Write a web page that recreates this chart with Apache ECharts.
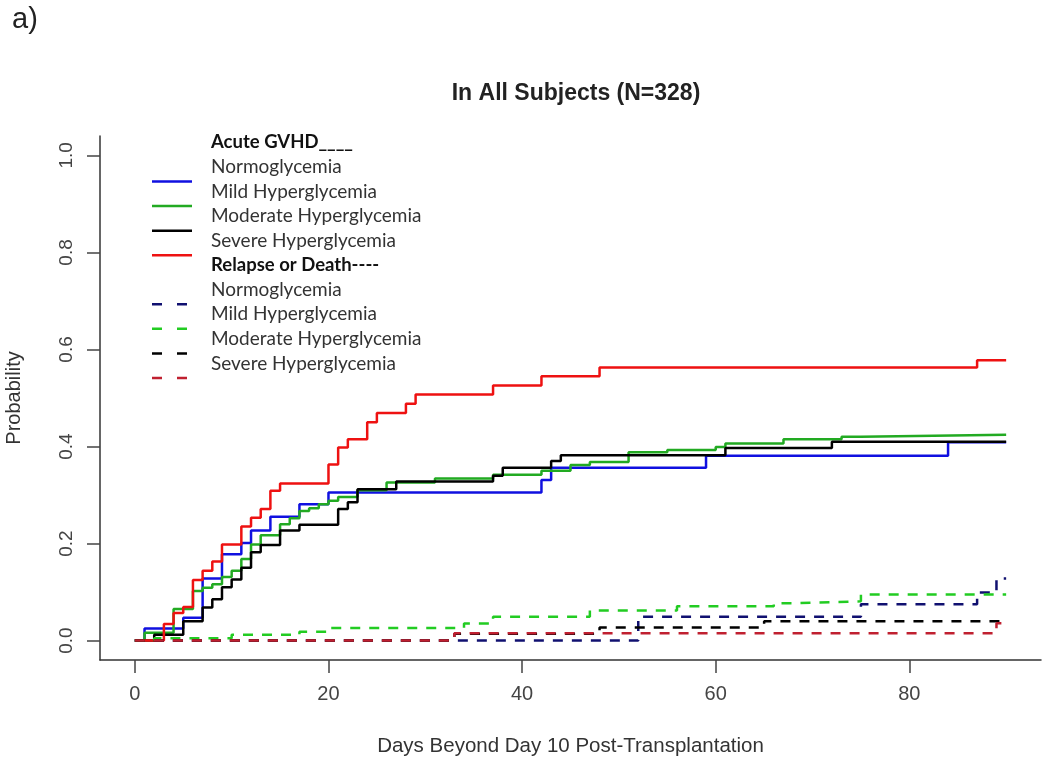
<!DOCTYPE html>
<html>
<head>
<meta charset="utf-8">
<script src="https://cdn.jsdelivr.net/npm/echarts@6/dist/echarts.min.js"></script>
<style>
html,body{margin:0;padding:0;background:#fff;}
#chart{width:1050px;height:771px;}
</style>
</head>
<body>
<div id="chart"></div>
<script>
// ---- data (day, cumulative probability) ----
var gvhdNormo = [[0,0],[1,0.025],[5,0.047],[7,0.128],[9,0.178],[11,0.201],[12,0.227],[14,0.255],[17,0.281],[20,0.305],[42,0.331],[43,0.356],[59,0.381],[84,0.409],[90,0.409]];
var gvhdMild = [[0,0],[1,0.016],[4,0.065],[6,0.102],[7,0.109],[8,0.116],[9,0.131],[10,0.144],[11,0.168],[12,0.198],[13,0.217],[15,0.240],[16,0.252],[17,0.267],[18,0.273],[19,0.281],[20,0.288],[21,0.296],[23,0.310],[26,0.326],[31,0.334],[37,0.342],[42,0.350],[45,0.362],[47,0.368],[51,0.388],[55,0.393],[60,0.399],[61,0.406],[67,0.415],[73,0.420],[75,0.424],[90,0.424]];
var gvhdMod = [[0,0],[2,0.012],[5,0.040],[7,0.068],[8,0.085],[9,0.110],[10,0.126],[11,0.150],[12,0.182],[13,0.197],[15,0.227],[17,0.239],[21,0.271],[22,0.285],[23,0.312],[27,0.328],[37,0.340],[38,0.356],[43,0.370],[44,0.382],[61,0.397],[72,0.410],[90,0.410]];
var gvhdSev = [[0,0],[3,0.034],[4,0.057],[5,0.069],[6,0.125],[7,0.144],[8,0.163],[9,0.198],[11,0.235],[12,0.253],[13,0.271],[14,0.309],[15,0.324],[20,0.363],[21,0.398],[22,0.415],[24,0.450],[25,0.469],[28,0.488],[29,0.507],[37,0.526],[42,0.545],[48,0.563],[87,0.578],[90,0.578]];
var relNormo = [[0,0],[52,0.049],[75,0.075],[87,0.099],[89,0.128],[90,0.128]];
var relMild = [[0,0],[2,0.005],[10,0.012],[17,0.018],[20,0.026],[34,0.035],[37,0.049],[47,0.062],[56,0.071],[66,0.077],[68,0.081],[75,0.095],[90,0.095]];
var relMod = [[0,0],[33,0.014],[48,0.027],[65,0.040],[90,0.040]];
var relSev = [[0,0],[33,0.015],[89,0.036],[90,0.036]];

var xTicks = [0, 20, 40, 60, 80];
var yTicks = [0, 0.2, 0.4, 0.6, 0.8, 1.0];
var legendHeaders = ["Acute GVHD____", "Relapse or Death----"];
var legendLabels = ["Normoglycemia", "Mild Hyperglycemia", "Moderate Hyperglycemia", "Severe Hyperglycemia"];
var titleText = "In All Subjects (N=328)";
var xName = "Days Beyond Day 10 Post-Transplantation";
var yName = "Probability";
var panelTag = "a)";

var solidColors = ["#1010e0", "#22aa22", "#000000", "#ee1111"];
var dashColors = ["#101070", "#22cc22", "#000000", "#c02030"];
var dashPattern = [10, 9];

var seriesData = [gvhdNormo, gvhdMild, gvhdMod, gvhdSev, relNormo, relMild, relMod, relSev];

var series = seriesData.map(function (d, i) {
  var dashed = i >= 4;
  var k = i % 4;
  return {
    name: (dashed ? "Relapse or Death - " : "Acute GVHD - ") + legendLabels[k],
    type: 'line',
    step: 'end',
    data: d,
    showSymbol: false,
    symbol: 'none',
    animation: false,
    lineStyle: {
      width: 2.5,
      color: dashed ? dashColors[k] : solidColors[k],
      type: dashed ? dashPattern : 'solid'
    },
    z: 2 + i
  };
});

// legend drawn as graphic (reference has sample lines offset between text rows)
var graphics = [];
var font = '"Lato", "Noto Sans", sans-serif';
var rowY0 = 144, rowH = 24.55, textX = 211;
var row = 0;
for (var g = 0; g < 2; g++) {
  graphics.push({
    type: 'text', left: textX, top: rowY0 + row * rowH - 11,
    style: { text: legendHeaders[g], font: 'bold 18.5px ' + font, fill: '#111' }
  });
  row++;
  for (var k = 0; k < 4; k++) {
    var ty = rowY0 + row * rowH;
    graphics.push({
      type: 'text', left: textX, top: ty - 11,
      style: { text: legendLabels[k], font: '19px ' + font, fill: '#333' }
    });
    var ly = ty + 13;
    graphics.push({
      type: 'line',
      shape: { x1: 152, y1: ly, x2: 192, y2: ly },
      style: {
        stroke: g === 0 ? solidColors[k] : dashColors[k],
        lineWidth: 2.5,
        lineDash: g === 0 ? null : [10, 15]
      }
    });
    row++;
  }
}
graphics.push({
  type: 'text', left: 12, top: 5,
  style: { text: panelTag, font: '29px "Liberation Sans", Arial, sans-serif', fill: '#222' }
});

var chart = echarts.init(document.getElementById('chart'), null, { renderer: 'canvas' });
chart.setOption({
  backgroundColor: '#ffffff',
  animation: false,
  title: {
    text: titleText,
    left: 571,
    top: 77,
    textAlign: 'center',
    textStyle: { fontFamily: '"Liberation Sans", Arial, sans-serif', fontWeight: 'bold', fontSize: 23, color: '#222' }
  },
  grid: { left: 100, right: 9, top: 136, bottom: 111, containLabel: false, outerBoundsMode: 'none' },
  xAxis: {
    type: 'value',
    min: -3.6,
    max: 93.6,
    name: xName,
    nameLocation: 'middle',
    nameGap: 76,
    nameTextStyle: { fontFamily: '"Liberation Sans", Arial, sans-serif', fontSize: 20.5, color: '#333' },
    axisLine: { show: true, onZero: false, lineStyle: { color: '#333', width: 1.5 } },
    axisTick: { show: true, length: 13, customValues: xTicks, lineStyle: { color: '#444', width: 1.5 } },
    axisLabel: {
      customValues: xTicks, margin: 24,
      fontFamily: '"Liberation Sans", Arial, sans-serif', fontSize: 20, color: '#444',
      formatter: function (v) { return String(Math.round(v)); }
    },
    splitLine: { show: false }
  },
  yAxis: {
    type: 'value',
    min: -0.04,
    max: 1.04,
    name: yName,
    nameLocation: 'middle',
    nameRotate: 90,
    nameGap: 76,
    nameTextStyle: { fontFamily: '"Liberation Sans", Arial, sans-serif', fontSize: 20, color: '#333' },
    axisLine: { show: true, onZero: false, lineStyle: { color: '#333', width: 1.5 } },
    axisTick: { show: true, length: 13, customValues: yTicks, lineStyle: { color: '#444', width: 1.5 } },
    axisLabel: {
      customValues: yTicks, margin: 24, rotate: 90,
      fontFamily: '"Liberation Sans", Arial, sans-serif', fontSize: 19, color: '#444',
      formatter: function (v) { return v.toFixed(1); }
    },
    splitLine: { show: false }
  },
  graphic: graphics,
  series: series
});
</script>
</body>
</html>
